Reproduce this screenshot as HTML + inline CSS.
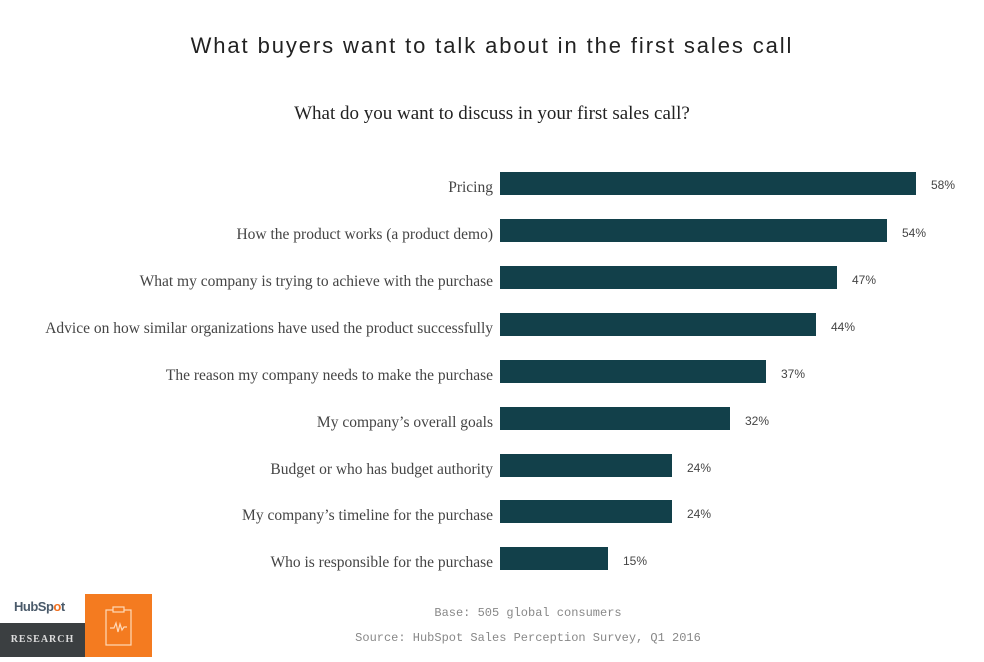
<!DOCTYPE html>
<html><head><meta charset="utf-8"><style>
body{margin:0;width:984px;height:657px;background:#fff;position:relative;overflow:hidden;font-family:"Liberation Serif",serif;color:#333}
.t{position:absolute;left:0;width:984px;text-align:center}
.lab{position:absolute;right:491px;font-size:15.5px;color:#444;white-space:nowrap;margin-top:2px}
.bar{position:absolute;left:500px;height:23px;background:#12404a}
.pct{position:absolute;font-size:12px;color:#444;font-family:"Liberation Sans",sans-serif}
</style></head><body>
<div class="t" style="top:33px;font-family:'Liberation Sans',sans-serif;font-size:22px;letter-spacing:1.9px;color:#222">What buyers want to talk about in the first sales call</div>
<div class="t" style="top:103px;font-size:19px;color:#222">What do you want to discuss in your first sales call?</div>
<div class="lab" style="top:177px">Pricing</div><div class="bar" style="top:172px;width:416px"></div><div class="pct" style="top:178px;left:931px">58%</div>
<div class="lab" style="top:224px">How the product works (a product demo)</div><div class="bar" style="top:219px;width:387px"></div><div class="pct" style="top:226px;left:902px">54%</div>
<div class="lab" style="top:271px">What my company is trying to achieve with the purchase</div><div class="bar" style="top:266px;width:337px"></div><div class="pct" style="top:273px;left:852px">47%</div>
<div class="lab" style="top:318px">Advice on how similar organizations have used the product successfully</div><div class="bar" style="top:313px;width:316px"></div><div class="pct" style="top:320px;left:831px">44%</div>
<div class="lab" style="top:365px">The reason my company needs to make the purchase</div><div class="bar" style="top:360px;width:266px"></div><div class="pct" style="top:367px;left:781px">37%</div>
<div class="lab" style="top:412px">My company’s overall goals</div><div class="bar" style="top:407px;width:230px"></div><div class="pct" style="top:414px;left:745px">32%</div>
<div class="lab" style="top:459px">Budget or who has budget authority</div><div class="bar" style="top:454px;width:172px"></div><div class="pct" style="top:461px;left:687px">24%</div>
<div class="lab" style="top:505px">My company’s timeline for the purchase</div><div class="bar" style="top:500px;width:172px"></div><div class="pct" style="top:507px;left:687px">24%</div>
<div class="lab" style="top:552px">Who is responsible for the purchase</div><div class="bar" style="top:547px;width:108px"></div><div class="pct" style="top:554px;left:623px">15%</div>
<div class="t" style="top:606px;left:36px;font-family:'Liberation Mono',monospace;font-size:12px;color:#888">Base: 505 global consumers</div>
<div class="t" style="top:631px;left:36px;font-family:'Liberation Mono',monospace;font-size:12px;color:#888">Source: HubSpot Sales Perception Survey, Q1 2016</div>
<div style="position:absolute;left:14px;top:599px;font-family:'Liberation Sans',sans-serif;font-weight:bold;font-size:13px;color:#4a5a6a;letter-spacing:-0.5px">Hub<span>Sp</span><span style="color:#f07020">o</span>t</div>
<div style="position:absolute;left:0;top:623px;width:85px;height:34px;background:#3b3f41;color:#ddd;font-size:10px;font-weight:bold;letter-spacing:1px;line-height:34px;text-align:center">RESEARCH</div>
<div style="position:absolute;left:85px;top:594px;width:67px;height:63px;background:#f47b20">
<svg width="67" height="63"><rect x="21" y="16" width="25" height="35" fill="none" stroke="#ffd9b8" stroke-width="1.2"/><rect x="28" y="13" width="11" height="5" fill="#f47b20" stroke="#ffd9b8" stroke-width="1.2"/><polyline points="25,34 29,34 31,29 33,38 35,30 37,36 39,33 42,33" fill="none" stroke="#ffd9b8" stroke-width="1.2"/></svg></div>
</body></html>
